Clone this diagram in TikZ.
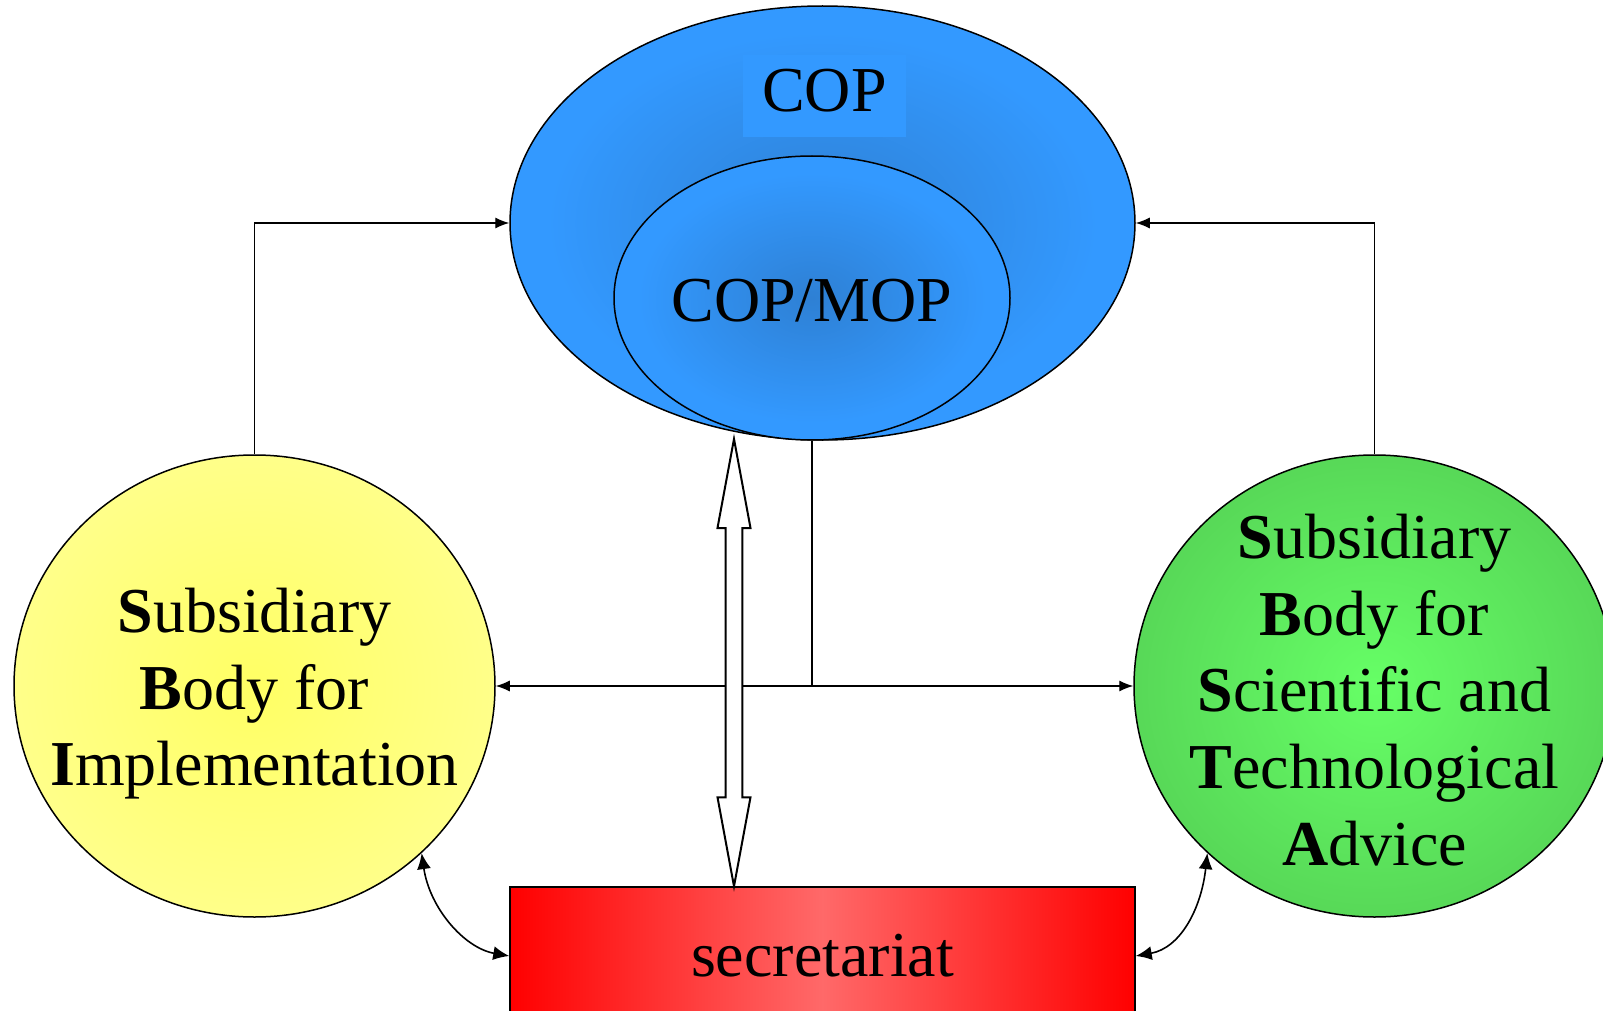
\documentclass[tikz,border=0pt]{standalone}
\usepackage{fontspec}
\setmainfont{Liberation Serif}
\usetikzlibrary{shapes.geometric,arrows.meta,calc}

\definecolor{copblue}{RGB}{51,153,255}
\definecolor{copdark}{RGB}{46,128,212}
\definecolor{ylwout}{RGB}{255,255,160}
\definecolor{ylwin}{RGB}{255,255,100}
\definecolor{grnout}{RGB}{78,190,78}
\definecolor{grnin}{RGB}{102,255,102}
\definecolor{redmid}{RGB}{255,105,105}

\pgfdeclareradialshading{copshade}{\pgfpoint{0bp}{0bp}}{color(0bp)=(copdark); color(22bp)=(copblue); color(50bp)=(copblue)}
\pgfdeclareradialshading{yshade}{\pgfpoint{0bp}{0bp}}{color(0bp)=(ylwin); color(40bp)=(ylwout); color(50bp)=(ylwout)}
\pgfdeclareradialshading{gshade}{\pgfpoint{0bp}{0bp}}{color(0bp)=(grnin); color(42bp)=(grnout); color(50bp)=(grnout)}

\begin{document}
\begin{tikzpicture}[x=0.5pt,y=-0.5pt,
  txt/.style={font=\fontsize{32pt}{38.3pt}\selectfont, align=center, text=black},
  body/.style={ellipse, draw=black, line width=0.75pt, inner sep=0pt},
  conn/.style={line width=0.6pt, -{Latex[length=7pt,width=5.5pt]}},
  plainline/.style={line width=0.6pt},
  curv/.style={line width=0.8pt, {Latex[length=8pt,width=7pt]}-{Latex[length=8pt,width=7pt]}},
  blockarrow/.style={line width=1pt, draw=black, fill=white, line join=miter},
]
\clip (0,0) rectangle (1603,1011);
\fill[white] (0,0) rectangle (1603,1011);

% COP (outer)
\node[body, minimum width=312.5pt, minimum height=217pt, shading=copshade] (cop) at (822.5,223) {};
\node[txt, fill=copblue, minimum width=81.5pt, minimum height=41pt, inner sep=0pt, text depth=6pt] (coplabel) at (824.5,96) {COP};
% COP/MOP (inner)
\node[body, minimum width=198pt, minimum height=142pt, shading=copshade,
      label={[txt, yshift=-1.5pt]center:COP/MOP}] (copmop) at (812,298) {};

% subsidiary bodies
\node[body, minimum width=240.5pt, minimum height=231pt, shading=yshade,
      label={[txt, yshift=-4pt]center:\textbf{S}ubsidiary\\\textbf{B}ody for\\\textbf{I}mplementation}] (sbi) at (254.5,686) {};
\node[body, minimum width=240.5pt, minimum height=231pt, shading=gshade,
      label={[txt, yshift=-2pt]center:\textbf{S}ubsidiary\\\textbf{B}ody for\\\textbf{S}cientific and\\\textbf{T}echnological\\\textbf{A}dvice}] (sbsta) at (1374.5,686) {};

% secretariat
\node[draw=black, line width=0.75pt, minimum width=312.5pt, minimum height=69pt, inner sep=0pt,
      left color=red, right color=red, middle color=redmid, txt] (sec) at (822.5,956) {secretariat};

% connectors
\draw[conn] (sbi.north) |- (cop.west);
\draw[conn] (sbsta.north) |- (cop.east);
\coordinate (junc) at (copmop.south |- sbi.east);
\draw[plainline] (copmop.south) -- (junc);
\draw[conn] (junc) -- (sbi.east);
\draw[conn] (junc) -- (sbsta.west);

% double block arrow
\coordinate (datop) at (734,439);
\coordinate (dabot) at (sec.north -| datop);
\draw[blockarrow] (datop) -- ($(datop)+(16.5,89)$) -- ($(datop)+(8.3,89)$)
  -- ($(dabot)+(8.3,-89)$) -- ($(dabot)+(16.5,-89)$) -- (dabot)
  -- ($(dabot)+(-16.5,-89)$) -- ($(dabot)+(-8.3,-89)$)
  -- ($(datop)+(-8.3,89)$) -- ($(datop)+(-16.5,89)$) -- cycle;

% curved double arrows
\draw[curv] (sbi.-45) .. controls +(8,55) and +(-45,-8) .. (sec.west);
\draw[curv] (sbsta.-135) .. controls +(-6,55) and +(45,-8) .. (sec.east);
\end{tikzpicture}
\end{document}
